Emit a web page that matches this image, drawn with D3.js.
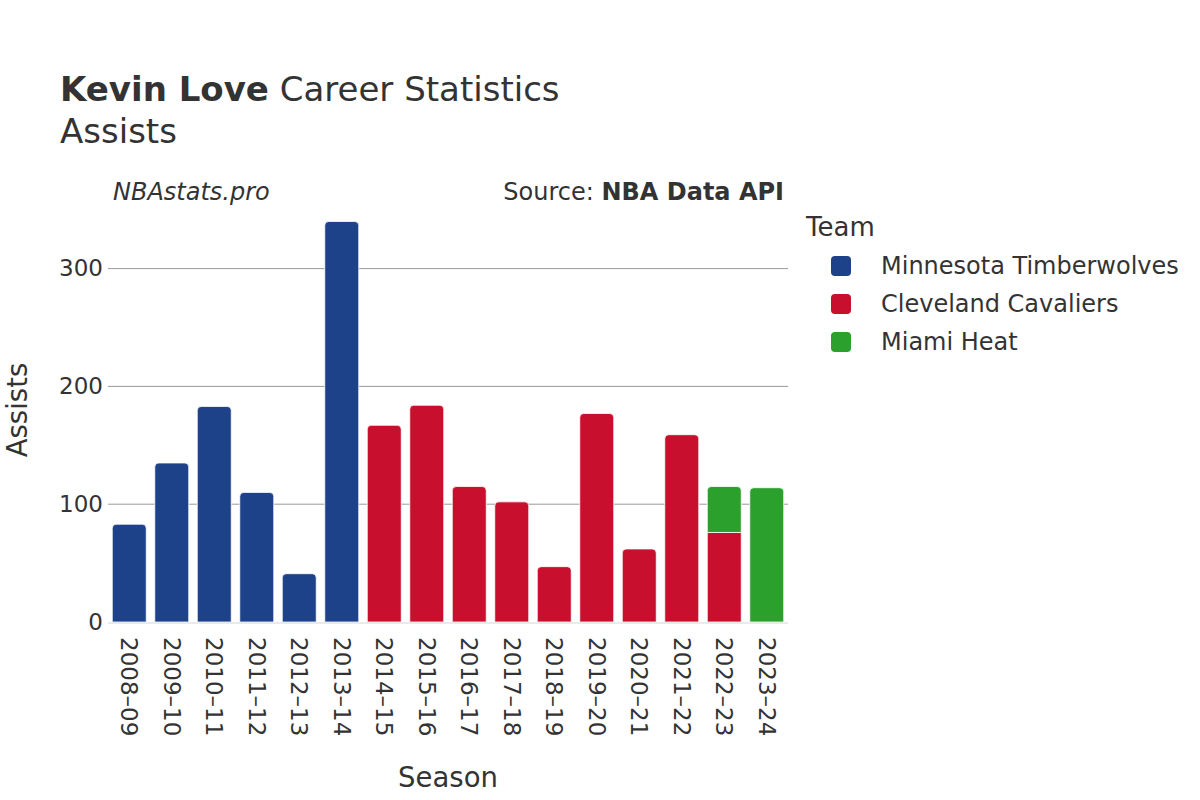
<!DOCTYPE html>
<html><head><meta charset="utf-8">
<script src="https://cdn.jsdelivr.net/npm/d3@7"></script>
<style>body{margin:0;background:#fff}svg{display:block;font-family:"DejaVu Sans",sans-serif}</style>
</head><body><svg id="c" width="1200" height="800"></svg>
<script>
const seasons = ["2008–09","2009–10","2010–11","2011–12","2012–13","2013–14","2014–15","2015–16","2016–17","2017–18","2018–19","2019–20","2020–21","2021–22","2022–23","2023–24"];
const teams = ["Minnesota Timberwolves","Cleveland Cavaliers","Miami Heat"];
const teamColors = ["#1d428a","#c8102e","#2ca02c"];
const minValues = [83,135,183,110,41,340,0,0,0,0,0,0,0,0,0,0];
const cleValues = [0,0,0,0,0,0,167,184,115,102,47,177,62,159,76,0];
const miaValues = [0,0,0,0,0,0,0,0,0,0,0,0,0,0,39,114];
const yTicks = [0,100,200,300];

const svg = d3.select("#c");
const txt = "#333";
const L = 108, R = 788, B = 622;
const x = d3.scaleBand().domain(seasons).range([L, R]).paddingInner(0.2).paddingOuter(0.1);
const y = d3.scaleLinear().domain([0, 350]).range([B, B - 350 * 1.178]);

// grid
svg.append("g").selectAll("line").data(yTicks.filter(d => d > 0)).join("line")
  .attr("x1", L).attr("x2", R).attr("y1", d => y(d)).attr("y2", d => y(d))
  .attr("stroke", "#9a9a9a").attr("stroke-width", 1);

// stacked bars
const series = [minValues, cleValues, miaValues];
const rows = seasons.map((s, i) => ({season: s, v: series.map(a => a[i])}));
const segs = [];
rows.forEach(r => {
  let base = 0;
  const top = r.v.reduce((m, v, k) => v > 0 ? k : m, -1);
  r.v.forEach((v, k) => {
    if (v > 0) { segs.push({season: r.season, y0: base, y1: base + v, k, isTop: k === top}); base += v; }
  });
});
function barPath(d) {
  const x0 = x(d.season), w = x.bandwidth(), yt = y(d.y1), yb = y(d.y0);
  const r = d.isTop ? Math.min(4, (yb - yt) / 2) : 0;
  return `M${x0},${yb}V${yt + r}Q${x0},${yt} ${x0 + r},${yt}H${x0 + w - r}Q${x0 + w},${yt} ${x0 + w},${yt + r}V${yb}Z`;
}
svg.append("g").selectAll("path").data(segs).join("path")
  .attr("d", barPath).attr("fill", d => teamColors[d.k])
  .attr("stroke", "#fff").attr("stroke-width", 0.8);

// zero line
svg.append("line").attr("x1", L).attr("x2", R).attr("y1", y(0) + 1).attr("y2", y(0) + 1)
  .attr("stroke", "#eaeaea").attr("stroke-width", 2);

// y axis
const yAx = svg.append("g").attr("transform", `translate(${L},0)`)
  .call(d3.axisLeft(y).tickValues(yTicks).tickSize(0).tickPadding(5));
yAx.select(".domain").remove();
yAx.selectAll("text").attr("font-size", 23).attr("fill", txt).attr("font-family", "DejaVu Sans");

// x axis
const xAx = svg.append("g").attr("transform", `translate(0,${B})`)
  .call(d3.axisBottom(x).tickSize(0));
xAx.select(".domain").remove();
xAx.selectAll("text").attr("font-size", 23).attr("fill", txt).attr("font-family", "DejaVu Sans")
  .attr("transform", "rotate(90)").attr("text-anchor", "start").attr("dy", "0.35em").attr("x", 15).attr("y", 0);

// titles
const t = svg.append("text").attr("x", 60).attr("y", 101).attr("font-size", 34).attr("fill", txt);
t.append("tspan").attr("font-weight", "bold").text("Kevin Love");
t.append("tspan").text(" Career Statistics");
svg.append("text").attr("x", 60).attr("y", 143).attr("font-size", 34).attr("fill", txt).text("Assists");

svg.append("text").attr("x", 113).attr("y", 200).attr("font-size", 24).attr("font-style", "italic").attr("fill", txt).text("NBAstats.pro");
const s = svg.append("text").attr("x", 784).attr("y", 200).attr("font-size", 24).attr("text-anchor", "end").attr("fill", txt);
s.append("tspan").text("Source: ");
s.append("tspan").attr("font-weight", "bold").text("NBA Data API");

// axis titles
svg.append("text").attr("transform", "translate(27,410) rotate(-90)").attr("text-anchor", "middle")
  .attr("font-size", 27.5).attr("fill", txt).text("Assists");
svg.append("text").attr("x", 448).attr("y", 787).attr("text-anchor", "middle")
  .attr("font-size", 27.5).attr("fill", txt).text("Season");

// legend
const lg = svg.append("g");
lg.append("text").attr("x", 806).attr("y", 236).attr("font-size", 26).attr("fill", txt).text("Team");
const items = lg.selectAll("g.it").data(teams).join("g").attr("class", "it")
  .attr("transform", (d, i) => `translate(0,${266 + i * 38})`);
items.append("rect").attr("x", 831).attr("y", -10).attr("width", 20).attr("height", 20).attr("rx", 4)
  .attr("fill", (d, i) => teamColors[i]);
items.append("text").attr("x", 881).attr("y", 0).attr("dy", "0.35em").attr("font-size", 24).attr("fill", txt).text(d => d);
</script></body></html>
